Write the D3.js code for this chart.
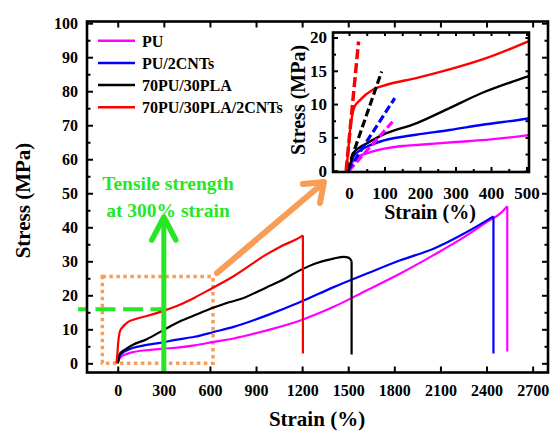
<!DOCTYPE html>
<html>
<head>
<meta charset="utf-8">
<script src="https://cdn.jsdelivr.net/npm/d3@7"></script>
<style>
  html, body { margin: 0; padding: 0; background: #fff; }
  svg { display: block; }
  text { font-family: "Liberation Serif", "Times New Roman", serif; font-weight: bold; }
</style>
</head>
<body>
<svg id="chart" width="551" height="432"></svg>
<script>
// ---- data: strain (%) vs stress (MPa) ----
const seriesNames = ["PU", "PU/2CNTs", "70PU/30PLA", "70PU/30PLA/2CNTs"];
const seriesColors = ["#ff00ff", "#0000ff", "#000000", "#ff0000"];

const puCurve = [[0,0],[5,0.8],[15,1.6],[30,2.2],[50,2.6],[75,3.0],[100,3.3],[150,3.7],[200,3.9],[300,4.3],
  [400,4.7],[500,5.3],[624,6.3],[754,7.3],[971,9.7],[1188,12.6],[1405,16.6],[1622,21.5],[1839,26.4],
  [2055,31.8],[2272,37.6],[2400,41.5],[2488,44.0],[2535,46.2]];
const pu2cntCurve = [[0,0],[5,1.0],[12,2.1],[30,3.0],[50,3.6],[96,4.5],[189,5.4],[283,6.1],[376,6.9],
  [500,7.8],[624,9.2],[754,10.7],[971,14.1],[1188,18.0],[1405,22.4],[1622,26.4],[1839,30.3],
  [2055,33.7],[2272,38.6],[2445,43.2]];
const blendCurve = [[0,0],[5,1.2],[12,2.6],[30,3.5],[50,4.1],[96,5.4],[189,7.1],[283,9.4],[376,11.7],
  [500,14.1],[624,16.4],[700,17.6],[800,18.9],[971,22.4],[1058,24.2],[1188,27.4],[1296,29.5],
  [1405,30.8],[1470,31.3],[1505,31.0],[1522,30.0]];
const blend2cntCurve = [[-8,0],[-2,3.0],[3,6.1],[8,8.0],[15,9.5],[31,10.6],[68,12.2],[106,12.9],
  [189,13.9],[283,15.2],[376,16.7],[500,19.3],[603,21.8],[754,25.6],[971,32.1],[1058,34.3],
  [1188,37.1],[1205,37.6]];
// stress left on the trace after fracture
const fractureStress = [3.5, 2.9, 2.6, 2.9];

// initial-slope (modulus) lines shown in the inset
const modulusLines = [
  [[0,0],[127,7.6]],
  [[-3,0],[129,10.9]],
  [[-5,0],[92,14.9]],
  [[-8,0],[27,19.4]]
];

const curves = [puCurve, pu2cntCurve, blendCurve, blend2cntCurve];

const xTicksMain = d3.range(0, 2701, 300);
const yTicksMain = d3.range(0, 101, 10);
const xTicksInset = d3.range(0, 501, 100);
const yTicksInset = d3.range(0, 21, 5);

// annotation: zoomed region and tensile strength at 300 % strain
const zoomBox = {x0: -100, x1: 620, y0: 0, y1: 25.5};
const markStrain = 300;
const markStress = 15.9;

// ---- layout ----
const svg = d3.select("#chart");
const x = d3.scaleLinear([-200, 2800], [87, 548]);
const y = d3.scaleLinear([-2.7, 100.5], [372.5, 21.5]);
const xi = d3.scaleLinear([-45, 507], [333, 529]);
const yi = d3.scaleLinear([-0.2, 20.75], [172, 32.5]);
const fmt = d3.format("d");

const green = "#26e626";
const orange = "#f79d56";

svg.append("defs").append("clipPath").attr("id", "clipMain")
  .append("rect").attr("x", x.range()[0]).attr("y", y.range()[1])
  .attr("width", x.range()[1] - x.range()[0]).attr("height", y.range()[0] - y.range()[1]);
svg.select("defs").append("clipPath").attr("id", "clipInset")
  .append("rect").attr("x", xi.range()[0]).attr("y", yi.range()[1])
  .attr("width", xi.range()[1] - xi.range()[0]).attr("height", yi.range()[0] - yi.range()[1]);

function styleAxis(g, size) {
  g.select(".domain").remove();
  g.selectAll(".tick line").attr("stroke", "#000").attr("stroke-width", 2);
  g.selectAll(".tick text").attr("fill", "#000").style("font-size", size + "px");
}

// main axes (ticks point inward on all four sides)
const gx = svg.append("g").attr("transform", `translate(0,${y.range()[0]})`)
  .call(d3.axisBottom(x).tickValues(xTicksMain).tickFormat(fmt).tickSize(-6).tickPadding(12.5));
styleAxis(gx, 16);
const gxt = svg.append("g").attr("transform", `translate(0,${y.range()[1]})`)
  .call(d3.axisTop(x).tickValues(xTicksMain).tickSize(-6).tickFormat(""));
styleAxis(gxt, 16);
const gy = svg.append("g").attr("transform", `translate(${x.range()[0]},0)`)
  .call(d3.axisLeft(y).tickValues(yTicksMain).tickFormat(fmt).tickSize(-6).tickPadding(9));
styleAxis(gy, 16);
const gym = svg.append("g").attr("transform", `translate(${x.range()[0]},0)`)
  .call(d3.axisLeft(y).tickValues(d3.range(5, 100, 10)).tickSize(-3.5).tickFormat(""));
styleAxis(gym, 16);
const gyr = svg.append("g").attr("transform", `translate(${x.range()[1]},0)`)
  .call(d3.axisRight(y).tickValues(yTicksMain).tickSize(-6).tickFormat(""));
styleAxis(gyr, 16);
const gyrm = svg.append("g").attr("transform", `translate(${x.range()[1]},0)`)
  .call(d3.axisRight(y).tickValues(d3.range(5, 100, 10)).tickSize(-3.5).tickFormat(""));
styleAxis(gyrm, 16);

// annotations under the curves
svg.append("rect")
  .attr("x", x(zoomBox.x0)).attr("y", y(zoomBox.y1))
  .attr("width", x(zoomBox.x1) - x(zoomBox.x0)).attr("height", y(zoomBox.y0) - y(zoomBox.y1))
  .attr("fill", "none").attr("stroke", orange).attr("stroke-width", 3.5)
  .attr("stroke-dasharray", "3.5 3.5");

svg.append("line")
  .attr("x1", 78).attr("x2", x(markStrain))
  .attr("y1", y(markStress)).attr("y2", y(markStress))
  .attr("stroke", green).attr("stroke-width", 4)
  .attr("stroke-dasharray", "20 7.5").attr("stroke-dashoffset", 10);

// main curves
const line = d3.line().x(d => x(d[0])).y(d => y(d[1])).curve(d3.curveMonotoneX);
const gCurves = svg.append("g").attr("clip-path", "url(#clipMain)");
curves.forEach((c, i) => {
  gCurves.append("path").attr("d", line(c))
    .attr("fill", "none").attr("stroke", seriesColors[i]).attr("stroke-width", 2.2);
  const last = c[c.length - 1];
  gCurves.append("line")
    .attr("x1", x(last[0])).attr("x2", x(last[0]))
    .attr("y1", y(last[1])).attr("y2", y(fractureStress[i]))
    .attr("stroke", seriesColors[i]).attr("stroke-width", 2.2);
});

// green arrow at 300 % strain
const ax = x(markStrain);
svg.append("line").attr("x1", ax).attr("x2", ax).attr("y1", y.range()[0]).attr("y2", 218)
  .attr("stroke", green).attr("stroke-width", 5);
svg.append("path").attr("d", `M${ax - 12},${240}L${ax},${217}L${ax + 12},${240}`)
  .attr("fill", "none").attr("stroke", green).attr("stroke-width", 5.5)
  .attr("stroke-linecap", "round").attr("stroke-linejoin", "round");

svg.append("text").attr("x", 168).attr("y", 190).attr("text-anchor", "middle")
  .attr("fill", green).style("font-size", "19.5px").text("Tensile strength");
svg.append("text").attr("x", 168).attr("y", 216.5).attr("text-anchor", "middle")
  .attr("fill", green).style("font-size", "19.5px").text("at 300% strain");

// orange arrow pointing to the inset
svg.append("line").attr("x1", 217).attr("y1", 273).attr("x2", 322).attr("y2", 184)
  .attr("stroke", orange).attr("stroke-width", 6).attr("stroke-linecap", "round");
svg.append("path").attr("d", "M303,184L324,182L320,203")
  .attr("fill", "none").attr("stroke", orange).attr("stroke-width", 6)
  .attr("stroke-linecap", "round").attr("stroke-linejoin", "round");

// main frame
svg.append("rect").attr("x", x.range()[0]).attr("y", y.range()[1])
  .attr("width", x.range()[1] - x.range()[0]).attr("height", y.range()[0] - y.range()[1])
  .attr("fill", "none").attr("stroke", "#000").attr("stroke-width", 2.6);

// axis titles
svg.append("text").attr("x", 317).attr("y", 426).attr("text-anchor", "middle")
  .style("font-size", "21px").text("Strain (%)");
svg.append("text").attr("transform", "translate(29.5,200.5) rotate(-90)").attr("text-anchor", "middle")
  .style("font-size", "21px").text("Stress (MPa)");

// legend
const legend = svg.append("g");
seriesNames.forEach((name, i) => {
  const ly = 40.7 + i * 22.2;
  legend.append("line").attr("x1", 98).attr("x2", 135).attr("y1", ly).attr("y2", ly)
    .attr("stroke", seriesColors[i]).attr("stroke-width", 2.5);
  legend.append("text").attr("x", 142).attr("y", ly + 6).style("font-size", "16px").text(name);
});

// ---- inset: first 500 % strain ----
const inset = svg.append("g");
inset.append("rect").attr("x", xi.range()[0]).attr("y", yi.range()[1])
  .attr("width", xi.range()[1] - xi.range()[0]).attr("height", yi.range()[0] - yi.range()[1])
  .attr("fill", "#fff");

const ix = inset.append("g").attr("transform", `translate(0,${yi.range()[0]})`)
  .call(d3.axisBottom(xi).tickValues(xTicksInset).tickFormat(fmt).tickSize(-5).tickPadding(14.5));
styleAxis(ix, 17);
const ixm = inset.append("g").attr("transform", `translate(0,${yi.range()[0]})`)
  .call(d3.axisBottom(xi).tickValues(d3.range(50, 500, 100)).tickSize(-3).tickFormat(""));
styleAxis(ixm, 17);
const ixt = inset.append("g").attr("transform", `translate(0,${yi.range()[1]})`)
  .call(d3.axisTop(xi).tickValues(d3.range(0, 501, 50)).tickSize(-3.5).tickFormat(""));
styleAxis(ixt, 17);
const iy = inset.append("g").attr("transform", `translate(${xi.range()[0]},0)`)
  .call(d3.axisLeft(yi).tickValues(yTicksInset).tickFormat(fmt).tickSize(-5).tickPadding(6));
styleAxis(iy, 17);
const iym = inset.append("g").attr("transform", `translate(${xi.range()[0]},0)`)
  .call(d3.axisLeft(yi).tickValues(d3.range(2.5, 20, 5)).tickSize(-3).tickFormat(""));
styleAxis(iym, 17);
const iyr = inset.append("g").attr("transform", `translate(${xi.range()[1]},0)`)
  .call(d3.axisRight(yi).tickValues(d3.range(0, 20.1, 2.5)).tickSize(-3.5).tickFormat(""));
styleAxis(iyr, 17);

const lineI = d3.line().x(d => xi(d[0])).y(d => yi(d[1])).curve(d3.curveMonotoneX);
const gInset = inset.append("g").attr("clip-path", "url(#clipInset)");
curves.forEach((c, i) => {
  gInset.append("path").attr("d", lineI(c.filter(d => d[0] <= 640)))
    .attr("fill", "none").attr("stroke", seriesColors[i]).attr("stroke-width", 2.4);
});
modulusLines.forEach((m, i) => {
  gInset.append("path").attr("d", d3.line().x(d => xi(d[0])).y(d => yi(d[1]))(m))
    .attr("fill", "none").attr("stroke", seriesColors[i])
    .attr("stroke-width", i === 3 ? 3.5 : 3.2)
    .attr("stroke-dasharray", i === 3 ? "10 4" : "8 3.5");
});

inset.append("rect").attr("x", xi.range()[0]).attr("y", yi.range()[1])
  .attr("width", xi.range()[1] - xi.range()[0]).attr("height", yi.range()[0] - yi.range()[1])
  .attr("fill", "none").attr("stroke", "#000").attr("stroke-width", 2.6);

inset.append("text").attr("x", 430).attr("y", 219).attr("text-anchor", "middle")
  .style("font-size", "20px").text("Strain (%)");
inset.append("text").attr("transform", "translate(305,100) rotate(-90)").attr("text-anchor", "middle")
  .style("font-size", "20px").text("Stress (MPa)");
</script>
</body>
</html>
